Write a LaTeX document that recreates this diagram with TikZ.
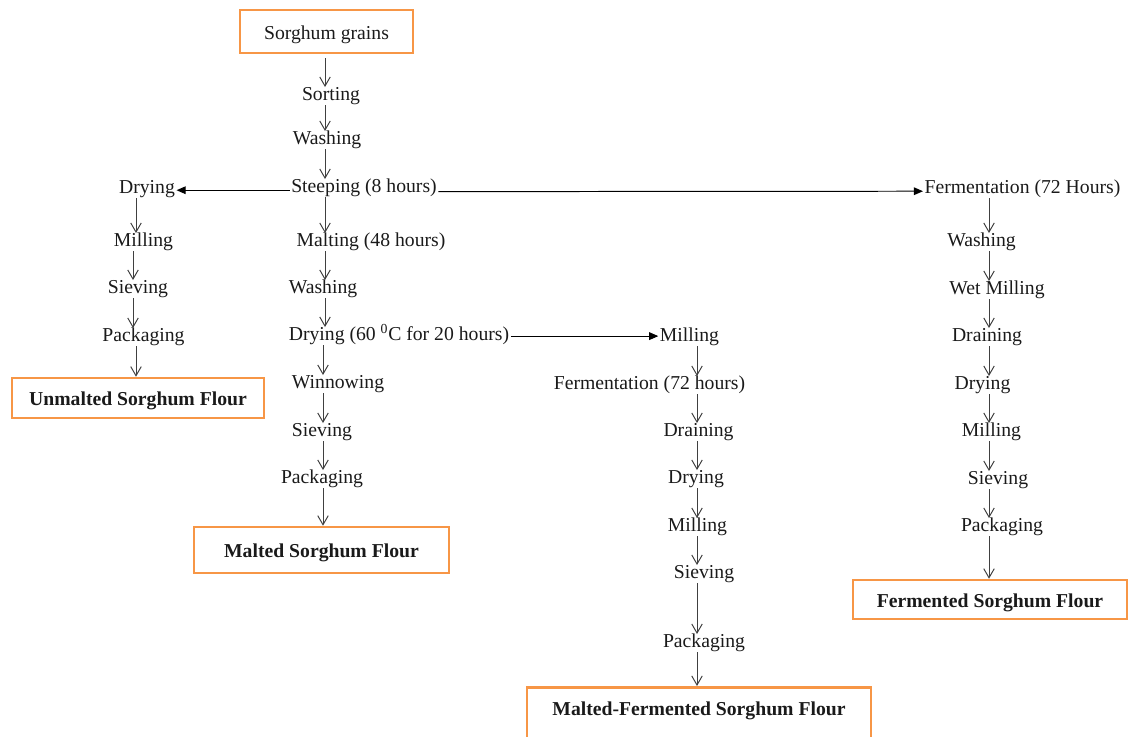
\documentclass[tikz,border=0pt]{standalone}
\usepackage{fontspec}
\setmainfont{Liberation Serif}
\usetikzlibrary{arrows.meta}
\definecolor{boxor}{HTML}{F79646}
\definecolor{linec}{HTML}{404040}
\definecolor{txt}{HTML}{1A1A1A}
\begin{document}
\begin{tikzpicture}[x=0.025cm,y=-0.025cm,
 lab/.style={font=\fontsize{14pt}{16pt}\selectfont, text=txt, inner xsep=1pt, inner ysep=0pt, text height=9.5pt, text depth=3pt, yshift=-1.5pt},
 fbox/.style={font=\fontsize{14pt}{16pt}\selectfont\bfseries, text=txt, draw=boxor, line width=1.8pt, inner sep=0pt, text height=12.5pt, text depth=1.8pt},
 arr/.style={draw=linec, line width=0.7pt, -{Straight Barb[length=6.5pt,width=7.5pt]}},
 harr/.style={draw=black, line width=0.7pt, -{Triangle[length=6.5pt,width=5.5pt]}}]
\useasboundingbox (0,0) rectangle (1130,736);
% column coordinates
\coordinate (cM) at (325,0);
\coordinate (cM2) at (323,0);
\coordinate (cL) at (136,0);
\coordinate (cL2) at (133,0);
\coordinate (cX) at (697,0);
\coordinate (cR) at (989,0);
% main column
\node[fbox, font=\fontsize{14pt}{16pt}\selectfont, minimum width=123pt, minimum height=30.6pt] (grain) at (326.5,31.5) {Sorghum grains};
\node[lab] (sort) at (331,94) {Sorting};
\node[lab] (wash) at (327,138) {Washing};
\node[lab] (steep) at (364,186) {Steeping (8 hours)};
\node[lab] (malt) at (371,240) {Malting (48 hours)};
\node[lab] (washM) at (323,287) {Washing};
\node[lab] (dry60) at (399,334) {Drying (60 \textsuperscript{0}C for 20 hours)};
\node[lab] (winn) at (338,382) {Winnowing};
\node[lab] (sievM) at (322,430) {Sieving};
\node[lab] (packM) at (322,477) {Packaging};
\node[fbox, minimum width=181.4pt, minimum height=32.7pt] (maltF) at (321.5,550) {Malted Sorghum Flour};
% left column
\node[lab] (dryL) at (147,187) {Drying};
\node[lab] (millL) at (143.5,240) {Milling};
\node[lab] (sievL) at (138,287) {Sieving};
\node[lab] (packL) at (143.5,335) {Packaging};
\node[fbox, minimum width=179.2pt, minimum height=28.5pt] (unmF) at (138,398) {Unmalted Sorghum Flour};
% middle column
\node[lab] (millX) at (689.5,335) {Milling};
\node[lab] (fermX) at (649.5,383) {Fermentation (72 hours)};
\node[lab] (drainX) at (698.5,430) {Draining};
\node[lab] (dryX) at (696,477) {Drying};
\node[lab] (millX2) at (697.5,525) {Milling};
\node[lab] (sievX) at (704,572) {Sieving};
\node[lab] (packX) at (704,641) {Packaging};
\node[fbox, anchor=north, minimum width=244.7pt, text height=20pt, text depth=22.8pt] (mfF) at (699,686) {Malted-Fermented Sorghum Flour};
% right column
\node[lab] (fermR) at (1022.5,187) {Fermentation (72 Hours)};
\node[lab] (washR) at (981.5,240) {Washing};
\node[lab] (wetR) at (997,288) {Wet Milling};
\node[lab] (drainR) at (987,335) {Draining};
\node[lab] (dryR) at (982.5,383) {Drying};
\node[lab] (millR) at (991.5,430) {Milling};
\node[lab] (sievR) at (998,478) {Sieving};
\node[lab] (packR) at (1002,525) {Packaging};
\node[fbox, minimum width=194.9pt, minimum height=27.7pt] (fermF) at (990,599.5) {Fermented Sorghum Flour};
% main column arrows
\draw[arr, shorten <=3pt] (grain.south -| cM) -- (sort.north -| cM);
\draw[arr] (sort.south -| cM) -- (wash.north -| cM);
\draw[arr] (wash.south -| cM) -- (steep.north -| cM);
\draw[arr] (steep.south -| cM) -- (malt.north -| cM);
\draw[arr] (malt.south -| cM) -- (washM.north -| cM);
\draw[arr] (washM.south -| cM) -- (dry60.north -| cM);
\draw[arr] (dry60.south -| cM2) -- (winn.north -| cM2);
\draw[arr] (winn.south -| cM2) -- (sievM.north -| cM2);
\draw[arr] (sievM.south -| cM2) -- (packM.north -| cM2);
\draw[arr] (packM.south -| cM2) -- (maltF.north -| cM2);
% left arrows
\draw[arr] (dryL.south -| cL) -- (millL.north -| cL);
\draw[arr] (millL.south -| cL2) -- (sievL.north -| cL2);
\draw[arr] (sievL.south -| cL2) -- (packL.north -| cL2);
\draw[arr] (packL.south -| cL) -- (unmF.north -| cL);
% middle arrows
\draw[arr] (millX.south -| cX) -- (fermX.north -| cX);
\draw[arr] (fermX.south -| cX) -- (drainX.north -| cX);
\draw[arr] (drainX.south -| cX) -- (dryX.north -| cX);
\draw[arr] (dryX.south -| cX) -- (millX2.north -| cX);
\draw[arr] (millX2.south -| cX) -- (sievX.north -| cX);
\draw[arr] (sievX.south -| cX) -- (packX.north -| cX);
\draw[arr] (packX.south -| cX) -- (mfF.north -| cX);
% right arrows
\draw[arr] (fermR.south -| cR) -- (washR.north -| cR);
\draw[arr] (washR.south -| cR) -- (wetR.north -| cR);
\draw[arr] (wetR.south -| cR) -- (drainR.north -| cR);
\draw[arr] (drainR.south -| cR) -- (dryR.north -| cR);
\draw[arr] (dryR.south -| cR) -- (millR.north -| cR);
\draw[arr] (millR.south -| cR) -- (sievR.north -| cR);
\draw[arr] (sievR.south -| cR) -- (packR.north -| cR);
\draw[arr] (packR.south -| cR) -- (fermF.north -| cR);
% horizontal arrows
\draw[harr] ([yshift=-1.5pt]steep.west) -- ([yshift=-1.5pt]steep.west -| dryL.east);
\draw[harr] ([yshift=-2.5pt]steep.east) -- ([yshift=-1.5pt]fermR.west);
\draw[harr] (dry60.east) -- (dry60.east -| millX.west);
\end{tikzpicture}
\end{document}
